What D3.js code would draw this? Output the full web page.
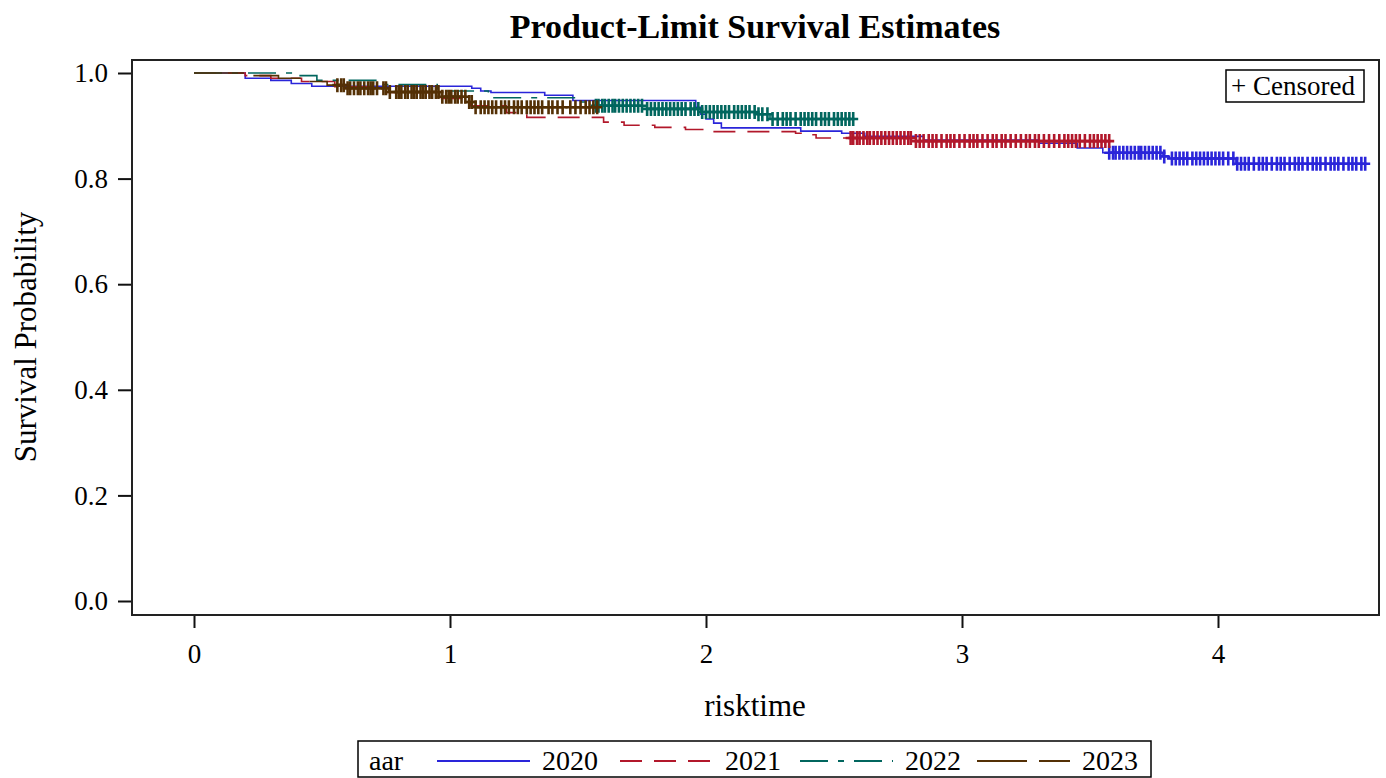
<!DOCTYPE html>
<html>
<head>
<meta charset="utf-8">
<script src="https://cdn.jsdelivr.net/npm/d3@7"></script>
<style>
  html, body { margin: 0; padding: 0; background: #fff; }
  svg { display: block; }
  text { font-family: "Liberation Serif", "DejaVu Serif", serif; fill: #000; }
</style>
</head>
<body>
<svg id="chart" width="1386" height="778"></svg>
<script>
// ---- Kaplan-Meier data: [time, survival after the event] per cohort year ----
const groups = ["2020", "2021", "2022", "2023"];

const steps2020 = [[0.20,0.990],[0.30,0.986],[0.38,0.980],[0.46,0.975],[1.085,0.971],[1.12,0.966],
  [1.16,0.963],[1.37,0.958],[1.48,0.948],[1.96,0.935],[1.98,0.922],[2.00,0.913],[2.03,0.905],
  [2.06,0.896],[2.37,0.890],[2.53,0.886],[2.62,0.880],[2.85,0.873],[3.30,0.867],[3.45,0.858],
  [3.55,0.849],[3.785,0.842],[3.81,0.838],[4.07,0.828]];
const steps2021 = [[0.20,0.995],[0.30,0.990],[0.42,0.984],[0.55,0.974],[0.75,0.963],[0.92,0.952],
  [1.08,0.938],[1.22,0.925],[1.30,0.916],[1.60,0.907],[1.68,0.901],[1.80,0.897],[1.92,0.893],
  [2.02,0.889],[2.35,0.886],[2.40,0.883],[2.43,0.877],[2.82,0.871]];
const steps2022 = [[0.38,0.995],[0.48,0.986],[0.72,0.978],[0.95,0.966],[1.15,0.953],[1.50,0.945],
  [1.56,0.938],[1.76,0.932],[1.98,0.926],[2.20,0.922],[2.25,0.913]];
const steps2023 = [[0.20,0.995],[0.33,0.990],[0.45,0.984],[0.52,0.977],[0.60,0.971],[0.76,0.964],
  [0.96,0.955],[1.07,0.945],[1.10,0.935]];

// end of follow-up per cohort
const endTimes = [4.585, 3.578, 2.58, 1.585];

// censoring times per cohort
const censor2020 = [3.575,3.59,3.60,3.615,3.63,3.645,3.66,3.675,3.69,3.70,3.715,3.73,3.745,3.76,3.775,
  3.79,3.82,3.835,3.85,3.865,3.88,3.90,3.915,3.93,3.945,3.96,3.975,3.99,4.005,4.02,4.04,4.06,4.075,
  4.09,4.105,4.12,4.14,4.16,4.175,4.19,4.21,4.23,4.245,4.26,4.28,4.30,4.315,4.33,4.35,4.37,4.385,
  4.40,4.42,4.44,4.455,4.47,4.49,4.51,4.525,4.54,4.56,4.575];
const censor2021 = [2.565,2.575,2.59,2.60,2.615,2.63,2.64,2.655,2.67,2.685,2.70,2.715,2.73,2.745,2.76,
  2.775,2.79,2.80,2.82,2.835,2.85,2.87,2.885,2.90,2.92,2.94,2.955,2.97,2.99,3.01,3.03,3.045,3.06,3.08,
  3.10,3.12,3.135,3.155,3.17,3.19,3.21,3.23,3.25,3.265,3.285,3.30,3.32,3.34,3.36,3.38,3.40,3.415,
  3.43,3.445,3.46,3.48,3.50,3.515,3.53,3.545,3.56,3.575];
const censor2022 = [1.57,1.58,1.595,1.605,1.62,1.635,1.645,1.66,1.675,1.69,1.705,1.72,1.735,1.75,1.77,
  1.785,1.80,1.815,1.83,1.845,1.86,1.875,1.89,1.905,1.92,1.94,1.955,1.97,1.985,2.0,2.015,2.03,2.045,
  2.06,2.075,2.09,2.11,2.125,2.14,2.155,2.17,2.19,2.205,2.22,2.24,2.26,2.28,2.30,2.315,2.33,2.35,
  2.37,2.385,2.40,2.415,2.43,2.45,2.465,2.48,2.50,2.515,2.53,2.545,2.56,2.575];
const censor2023 = [0.56,0.575,0.585,0.60,0.61,0.625,0.64,0.65,0.665,0.68,0.69,0.70,0.715,0.74,0.75,
  0.765,0.79,0.80,0.81,0.825,0.835,0.85,0.86,0.87,0.885,0.895,0.905,0.92,0.93,0.945,0.955,0.97,
  0.985,0.995,1.005,1.02,1.03,1.045,1.06,1.075,1.085,1.10,1.12,1.135,1.15,1.165,1.18,1.20,1.215,
  1.23,1.25,1.265,1.28,1.30,1.315,1.33,1.345,1.36,1.385,1.40,1.42,1.44,1.47,1.49,1.51,1.53,1.545,
  1.56,1.575];

const xTicks = [0, 1, 2, 3, 4];
const yTicks = [0, 0.2, 0.4, 0.6, 0.8, 1.0];

const allSteps = [steps2020, steps2021, steps2022, steps2023];
const allCensor = [censor2020, censor2021, censor2022, censor2023];

// ---- styling ----
const colors = ["#2A25D9", "#B2182B", "#01665E", "#543005"];
const dashes = [null, "22,12", "28,10,6,10", "50,12"];

const svg = d3.select("#chart");
const frame = { left: 132, top: 60, right: 1379, bottom: 615 };

const x = d3.scaleLinear().domain([0, 4]).range([194, 1218]);
const y = d3.scaleLinear().domain([0, 1]).range([601, 73]);

// title
svg.append("text")
  .attr("x", 755).attr("y", 38)
  .attr("text-anchor", "middle")
  .style("font-size", "34px").style("font-weight", "bold")
  .text("Product-Limit Survival Estimates");

// axes
const yAxis = svg.append("g")
  .attr("transform", `translate(${frame.left},0)`)
  .call(d3.axisLeft(y).tickValues(yTicks).tickSize(14).tickPadding(10).tickFormat(d3.format(".1f")));
const xAxis = svg.append("g")
  .attr("transform", `translate(0,${frame.bottom})`)
  .call(d3.axisBottom(x).tickValues(xTicks).tickSize(13).tickPadding(16).tickFormat(d3.format("d")));
[yAxis, xAxis].forEach(a => {
  a.select(".domain").remove();
  a.selectAll("line").attr("stroke", "#111").attr("stroke-width", 2);
  a.selectAll("text")
    .style("font-family", '"Liberation Serif", serif')
    .style("font-size", "27px").attr("fill", "#000");
});

// axis titles
svg.append("text")
  .attr("transform", "translate(36,337) rotate(-90)")
  .attr("text-anchor", "middle")
  .style("font-size", "31px")
  .text("Survival Probability");
svg.append("text")
  .attr("x", 755).attr("y", 716)
  .attr("text-anchor", "middle")
  .style("font-size", "31px")
  .text("risktime");

// survival curves
const plot = svg.append("g");
const line = d3.line().x(d => x(d[0])).y(d => y(d[1])).curve(d3.curveStepAfter);

function survivalAt(steps, t) {
  let s = 1;
  for (const [ti, si] of steps) { if (ti <= t) s = si; else break; }
  return s;
}

groups.forEach((g, i) => {
  const steps = allSteps[i];
  const pts = [[0, 1], ...steps, [endTimes[i], steps[steps.length - 1][1]]];
  plot.append("path")
    .datum(pts)
    .attr("d", line)
    .attr("fill", "none")
    .attr("stroke", colors[i])
    .attr("stroke-width", 1.6)
    .attr("stroke-dasharray", dashes[i]);

  plot.append("g").selectAll("path")
    .data(allCensor[i])
    .join("path")
    .attr("transform", t => `translate(${x(t)},${y(survivalAt(steps, t))})`)
    .attr("d", "M-5,0H5M0,-7V7")
    .attr("stroke", colors[i])
    .attr("stroke-width", 2.6)
    .attr("fill", "none");
});

// plot frame
svg.append("rect")
  .attr("x", frame.left).attr("y", frame.top)
  .attr("width", frame.right - frame.left).attr("height", frame.bottom - frame.top)
  .attr("fill", "none").attr("stroke", "#222").attr("stroke-width", 2);

// censored key
svg.append("rect")
  .attr("x", 1226).attr("y", 70).attr("width", 138).attr("height", 32)
  .attr("fill", "#fff").attr("stroke", "#000").attr("stroke-width", 1.5);
svg.append("text")
  .attr("x", 1231).attr("y", 95)
  .style("font-size", "27px")
  .text("+ Censored");

// group legend
const legend = svg.append("g");
legend.append("rect")
  .attr("x", 358).attr("y", 741).attr("width", 793).attr("height", 36)
  .attr("fill", "#fff").attr("stroke", "#000").attr("stroke-width", 1.5);
legend.append("text")
  .attr("x", 369).attr("y", 770)
  .style("font-size", "28px")
  .text("aar");
const entryX = [437, 620, 800, 977];
groups.forEach((g, i) => {
  legend.append("line")
    .attr("x1", entryX[i]).attr("x2", entryX[i] + 93)
    .attr("y1", 761).attr("y2", 761)
    .attr("stroke", colors[i]).attr("stroke-width", 1.8)
    .attr("stroke-dasharray", dashes[i]);
  legend.append("text")
    .attr("x", entryX[i] + 105).attr("y", 770)
    .style("font-size", "28px")
    .text(g);
});
</script>
</body>
</html>
